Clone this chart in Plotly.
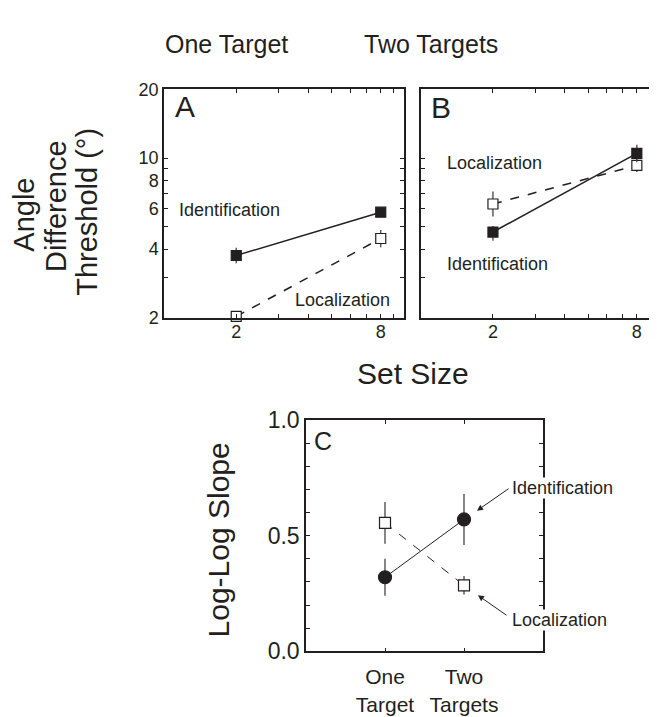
import plotly.graph_objects as go

# ---------------- data ----------------
set_sizes = [2, 8]
x_ticks_ab = [2, 3, 4, 5, 6, 7, 8, 9, 10]
x_ticktext_ab = ["2", "", "", "", "", "", "8", "", ""]
y_ticks_ab = [2, 3, 4, 5, 6, 7, 8, 9, 10, 20]
y_ticktext_ab = ["2", "", "4", "", "6", "", "8", "", "10", "20"]

a_ident = [3.75, 5.8]
a_ident_up = [0.3, 0.2]
a_ident_dn = [0.28, 0.2]
a_loc = [2.03, 4.45]
a_loc_up = [0.08, 0.4]
a_loc_dn = [0.05, 0.38]

b_ident = [4.75, 10.5]
b_ident_up = [0.3, 0.95]
b_ident_dn = [0.4, 0.9]
b_loc = [6.3, 9.3]
b_loc_up = [0.85, 0.6]
b_loc_dn = [0.75, 0.6]

conditions = ["One<br>Target", "Two<br>Targets"]
c_ident = [0.32, 0.57]
c_ident_err = [0.08, 0.11]
c_loc = [0.555, 0.285]
c_loc_err = [0.09, 0.04]
c_yticks = [0.0, 0.1, 0.2, 0.3, 0.4, 0.5, 0.6, 0.7, 0.8, 0.9, 1.0]
c_yticktext = ["0.0", "", "", "", "", "0.5", "", "", "", "", "1.0"]

INK = "#231f20"
FONT = "Liberation Sans, Arial, Helvetica, sans-serif"
W, H = 657, 717


def px(x):
    return x / W


def py(y):
    return 1 - y / H


fig = go.Figure()


def add_series(xa, ya, x, y, up, dn, filled, dash, size, width, symbol="square"):
    fig.add_trace(go.Scatter(
        x=x, y=y, xaxis=xa, yaxis=ya, mode="lines+markers",
        line=dict(color=INK, width=width, dash=dash),
        marker=dict(symbol=symbol, size=size,
                    color=INK if filled else "white",
                    line=dict(color=INK, width=1.2)),
        error_y=dict(type="data", array=up, arrayminus=dn, color="#444",
                     thickness=1.3, width=0),
        showlegend=False, cliponaxis=False,
    ))


# Panel A
add_series("x", "y", set_sizes, a_loc, a_loc_up, a_loc_dn, False, "dash", 10, 1.5)
add_series("x", "y", set_sizes, a_ident, a_ident_up, a_ident_dn, True, "solid", 10, 1.5)
# Panel B
add_series("x2", "y2", set_sizes, b_loc, b_loc_up, b_loc_dn, False, "dash", 10, 1.5)
add_series("x2", "y2", set_sizes, b_ident, b_ident_up, b_ident_dn, True, "solid", 10, 1.5)
# Panel C
add_series("x3", "y3", conditions, c_loc, c_loc_err, c_loc_err, False, "dash", 11, 1)
add_series("x3", "y3", conditions, c_ident, c_ident_err, c_ident_err, True, "solid", 13, 1, "circle")

axis_common = dict(showline=True, linecolor=INK, linewidth=1.5, mirror="ticks",
                   ticks="inside", ticklen=4, tickcolor=INK, tickwidth=1,
                   showgrid=False, zeroline=False,
                   tickfont=dict(family=FONT, size=18, color=INK))

dom_ab_y = [py(308), py(71)]
fig.update_layout(
    width=W, height=H, margin=dict(l=0, r=0, t=0, b=0),
    paper_bgcolor="white", plot_bgcolor="white",
    xaxis=dict(axis_common, type="log", range=[0, 1], domain=[px(156), px(396)],
               tickvals=x_ticks_ab, ticktext=x_ticktext_ab, anchor="y", ticklabelstandoff=-3),
    yaxis=dict(axis_common, type="log", range=[0.30103, 1.30103], domain=dom_ab_y,
               tickvals=y_ticks_ab, ticktext=y_ticktext_ab, anchor="x", ticklabelstandoff=0),
    xaxis2=dict(axis_common, type="log", range=[0, 1], domain=[px(413), px(652)],
                tickvals=x_ticks_ab, ticktext=x_ticktext_ab, anchor="y2", ticklabelstandoff=-3),
    yaxis2=dict(axis_common, type="log", range=[0.30103, 1.30103], domain=dom_ab_y,
                tickvals=y_ticks_ab, ticktext=y_ticktext_ab, anchor="x2", showticklabels=False),
    xaxis3=dict(axis_common, type="category", range=[-1, 2], domain=[px(298), px(535)],
                anchor="y3", ticklabelstandoff=6,
                tickfont=dict(family=FONT, size=21, color=INK)),
    yaxis3=dict(axis_common, range=[0, 1], domain=[py(654), py(414)],
                tickvals=c_yticks, ticktext=c_yticktext, anchor="x3", ticklabelstandoff=0,
                tickfont=dict(family=FONT, size=23, color=INK)),
)


def text(x, y, s, size, xanchor="center", angle=0, bg=None, pad=1):
    fig.add_annotation(x=px(x), y=py(y), xref="paper", yref="paper", text=s,
                       showarrow=False, xanchor=xanchor, yanchor="middle",
                       textangle=angle, bgcolor=bg, borderpad=pad,
                       font=dict(family=FONT, size=size, color=INK))


# column titles
text(218, 24, "One Target", 25)
text(423, 24, "Two Targets", 25)
# y title
text(16, 201, "Angle", 29, angle=-90)
text(48, 192, "Difference", 29, angle=-90)
text(79, 198, "Threshold (°)", 29, angle=-90)
text(405, 366, "Set Size", 30)
text(210, 539, "Log-Log Slope", 30, angle=-90)
# panel letters
text(165, 89, "A", 30, xanchor="left")
text(421, 90, "B", 30, xanchor="left")
text(304, 436, "C", 25, xanchor="left")
# series labels
text(169, 196, "Identification", 18, xanchor="left")
text(285, 290, "Localization", 18, xanchor="left")
text(437, 147, "Localization", 18, xanchor="left")
text(437, 252, "Identification", 18, xanchor="left")
text(503, 485, "Identification", 18, xanchor="left", bg="white", pad=0)
text(503, 622, "Localization", 18, xanchor="left", bg="white", pad=0)

# arrows in panel C
for hx, hy, ax, ay in [(1.165, 0.608, 33, -23), (1.177, 0.242, 30, 21)]:
    fig.add_annotation(x=hx, y=hy, xref="x3", yref="y3", text="", showarrow=True,
                       ax=ax, ay=ay, axref="pixel", ayref="pixel",
                       arrowhead=2, arrowsize=1.2, arrowwidth=1, arrowcolor=INK)

fig.write_html("out.html")
